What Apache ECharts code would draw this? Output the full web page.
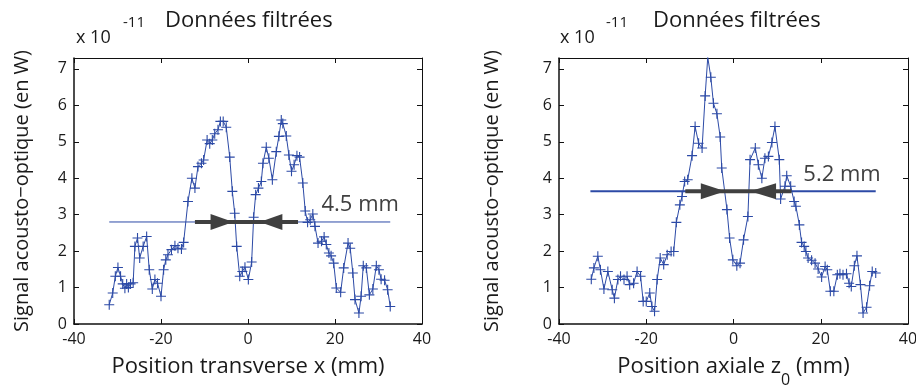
<!DOCTYPE html>
<html>
<head>
<meta charset="utf-8">
<script src="https://cdn.jsdelivr.net/npm/echarts@6/dist/echarts.min.js"></script>
<style>
html,body{margin:0;padding:0;background:#fff;}
#chart{width:916px;height:385px;}
</style>
</head>
<body>
<div id="chart"></div>
<script>
// ---- Data (values in units of 1e-11 W, positions in mm) ----
const xTicks = [-40, -20, 0, 20, 40];
const yTicks = [0, 1, 2, 3, 4, 5, 6, 7];

// Left panel: Position transverse x (mm)
const transX = [-31.9,-31.1,-30.5,-29.9,-29.3,-28.8,-28.3,-27.9,-27.5,-27.0,-26.4,-26.0,-25.4,-24.9,-24.1,-23.3,-22.7,-22.0,-21.4,-20.8,-20.0,-19.4,-18.9,-18.4,-17.6,-16.8,-16.1,-15.3,-14.8,-13.8,-12.9,-12.2,-11.5,-10.7,-10.2,-9.4,-8.8,-8.2,-7.65,-6.9,-6.35,-5.7,-5.0,-4.2,-3.6,-3.06,-2.6,-1.9,-1.3,-0.7,0.08,0.84,1.3,1.76,2.4,3.06,3.44,4.2,4.8,5.6,6.5,7.1,7.65,8.0,8.8,9.4,10.0,10.6,11.25,11.86,12.6,13.16,13.7,14.3,14.9,15.4,16.1,16.9,17.5,18.0,18.6,19.1,19.7,20.3,21.3,22.0,23.0,23.5,24.1,24.6,25.5,26.0,26.5,27.2,27.9,28.7,29.5,30.1,30.6,31.4,32.1,32.7];
const transY = [0.53,0.85,1.31,1.55,1.31,1.1,0.98,1.1,1.0,1.1,1.13,2.13,2.36,1.81,2.13,2.4,1.49,0.96,1.22,1.12,0.76,1.49,1.76,1.9,2.04,2.15,2.08,2.06,2.24,3.36,4.0,3.73,4.32,4.41,4.5,5.05,4.95,5.05,5.22,5.33,5.56,5.56,5.4,4.58,3.64,3.04,2.13,1.31,1.44,1.56,1.22,1.7,2.93,3.55,3.73,3.91,4.41,4.85,4.55,3.96,4.73,5.15,5.6,5.5,5.16,4.64,4.19,4.37,4.62,4.58,3.87,3.1,2.79,2.86,3.02,2.68,2.22,2.27,2.39,2.18,1.95,1.87,1.67,0.99,0.87,1.54,2.22,2.08,1.4,0.67,0.3,0.76,1.6,1.54,0.8,0.96,1.6,1.49,1.23,1.2,0.94,0.48];

// Right panel: Position axiale z0 (mm)
const axialX = [-32.6,-32.0,-31.1,-30.5,-29.7,-28.8,-27.8,-27.3,-26.5,-25.9,-25.1,-24.4,-23.8,-22.9,-22.1,-21.3,-20.7,-20.0,-19.2,-18.7,-18.1,-17.5,-16.8,-16.0,-15.2,-14.3,-13.7,-13.1,-12.3,-11.8,-11.2,-10.5,-9.5,-8.8,-8.0,-7.2,-6.5,-5.9,-5.2,-4.6,-3.8,-3.05,-2.7,-1.5,-0.9,-0.15,0.76,1.5,2.3,3.3,3.8,5.0,5.7,6.5,7.2,8.0,8.8,9.5,10.5,10.8,11.8,12.2,13.1,13.9,14.3,15.1,15.6,16.2,16.6,17.1,17.9,18.7,19.4,20.2,21.0,21.5,22.2,23.0,23.8,24.4,25.1,25.9,26.5,27.0,27.7,28.3,29.1,29.7,30.5,31.2,31.8,32.6];
const axialY = [1.23,1.54,1.86,1.49,0.96,1.44,0.94,0.71,1.22,1.31,1.22,1.31,1.08,1.12,1.44,1.31,0.62,0.62,0.85,0.48,0.35,1.22,1.81,1.63,1.9,1.99,1.99,2.79,3.27,3.5,3.91,3.96,4.62,5.42,4.96,4.83,6.26,7.32,6.77,6.06,5.77,5.13,4.28,3.14,2.36,1.76,1.6,1.67,2.31,2.95,4.51,4.83,4.37,4.0,4.55,4.6,4.98,5.42,4.51,3.43,3.78,4.07,3.78,3.36,3.23,2.72,2.24,2.13,1.99,1.81,1.75,1.67,1.51,1.29,1.58,1.49,0.9,0.9,1.35,1.38,1.35,1.38,1.12,1.03,1.6,1.87,1.08,0.3,0.46,1.05,1.44,1.4];

// Half-maximum levels and their extent
const levelTrans = 2.8;
const levelTransSpan = [-31.9, 32.7];
const levelAxial = 3.64;
const levelAxialSpan = [-32.8, 32.6];

// Width arrows: [shaft start, head1 base, head1 tip, head2 tip, head2 base, shaft end]
const arrowTrans = [-12.2, -8.6, -3.4, 2.7, 7.9, 11.5];
const arrowAxial = [-11.05, -7.5, -1.9, 3.8, 9.75, 13.3];
const widthLabels = ['4.5 mm', '5.2 mm'];
const widthLabelPos = [[16.9, 3.27], [16.0, 4.1]];

const titleText = 'Données filtrées';
const yName = 'Signal acousto\u2212optique (en W)';

// ---- Chart ----
const FONT = 'Open Sans';
const BLUE = '#2c4aa6';
const DARK = '#404040';
const TXT = '#1a1a1a';
const crossPath = 'path://M0,4.45H10V5.55H0Z M4.45,0H5.55V10H4.45Z';

function zip(a, b) { return a.map((v, i) => [v, b[i]]); }

function xAx(grid, pos) {
  const main = pos === 'bottom';
  return {
    type: 'value', gridIndex: grid, position: pos, min: -40, max: 40, interval: 20,
    axisLine: { show: true, onZero: false, lineStyle: { color: '#111', width: main ? 1.5 : 1 } },
    axisTick: { show: true, inside: true, length: 5, lineStyle: { color: '#111' } },
    axisLabel: { show: main, color: TXT, fontFamily: FONT, fontSize: 16, margin: 7 },
    splitLine: { show: false }
  };
}
function yAx(grid, pos) {
  const main = pos === 'left';
  return {
    type: 'value', gridIndex: grid, position: pos, min: 0, max: 7.3, interval: 1,
    axisLine: { show: true, onZero: false, lineStyle: { color: '#111', width: main ? 1.5 : 1 } },
    axisTick: { show: true, inside: true, length: 5, lineStyle: { color: '#111' } },
    axisLabel: { show: main, color: TXT, fontFamily: FONT, fontSize: 16, margin: 7,
      formatter: v => (Math.abs(v - Math.round(v)) < 1e-6 && yTicks.includes(Math.round(v))) ? String(Math.round(v)) : '' },
    splitLine: { show: false }
  };
}

function arrowSeries(xi, yi, level, arr) {
  return {
    type: 'custom', xAxisIndex: xi, yAxisIndex: yi, z: 5, silent: true,
    data: [[level]],
    renderItem: function (params, api) {
      const p = x => api.coord([x, level]);
      const s = p(arr[0]), b1 = p(arr[1]), t1 = p(arr[2]), t2 = p(arr[3]), b2 = p(arr[4]), e = p(arr[5]);
      const h = 8;
      return {
        type: 'group',
        children: [
          { type: 'line', shape: { x1: s[0], y1: s[1], x2: e[0], y2: e[1] }, style: { stroke: DARK, lineWidth: 4 } },
          { type: 'polygon', shape: { points: [[b1[0], b1[1] - h], [t1[0], t1[1]], [b1[0], b1[1] + h]] }, style: { fill: DARK } },
          { type: 'polygon', shape: { points: [[b2[0], b2[1] - h], [t2[0], t2[1]], [b2[0], b2[1] + h]] }, style: { fill: DARK } }
        ]
      };
    }
  };
}

function labelSeries(xi, yi, text, pos) {
  return {
    type: 'custom', xAxisIndex: xi, yAxisIndex: yi, z: 6, silent: true,
    data: [pos],
    renderItem: function (params, api) {
      const c = api.coord([api.value(0), api.value(1)]);
      return { type: 'text', x: c[0], y: c[1],
        style: { text: text, fill: DARK, fontFamily: FONT, fontSize: 22, align: 'left', verticalAlign: 'middle' } };
    }
  };
}

function dataSeries(xi, yi, xs, ys) {
  return {
    type: 'line', xAxisIndex: xi, yAxisIndex: yi, data: zip(xs, ys), z: 3,
    symbol: crossPath, symbolSize: 10, showAllSymbol: true,
    lineStyle: { color: BLUE, width: 1 }, itemStyle: { color: BLUE }, animation: false
  };
}
function levelSeries(xi, yi, level, span, w) {
  return {
    type: 'line', xAxisIndex: xi, yAxisIndex: yi, data: [[span[0], level], [span[1], level]], z: 2,
    symbol: 'none', lineStyle: { color: BLUE, width: w }, animation: false
  };
}

const nameStyle = { color: TXT, fontFamily: FONT, fontSize: 22 };

const option = {
  animation: false,
  backgroundColor: '#fff',
  grid: [
    { left: 74, top: 58, width: 348, height: 266, outerBoundsMode: 'none', containLabel: false },
    { left: 559, top: 58, width: 349, height: 266, outerBoundsMode: 'none', containLabel: false }
  ],
  xAxis: [
    Object.assign(xAx(0, 'bottom'), { name: 'Position transverse x (mm)', nameLocation: 'middle', nameGap: 32,
      nameTextStyle: nameStyle }),
    Object.assign(xAx(1, 'bottom'), { name: '{n|Position axiale z}{s|0}{n| (mm)}', nameLocation: 'middle', nameGap: 32,
      nameTextStyle: { color: TXT, fontFamily: FONT, fontSize: 22,
        rich: { n: { fontFamily: FONT, fontSize: 22, color: TXT }, s: { fontFamily: FONT, fontSize: 16, color: TXT, verticalAlign: 'bottom', padding: [0, 0, -10, 0] } } } }),
    xAx(0, 'top'),
    xAx(1, 'top')
  ],
  yAxis: [
    Object.assign(yAx(0, 'left'), { name: yName, nameLocation: 'middle', nameGap: 42,
      nameTextStyle: { color: TXT, fontFamily: FONT, fontSize: 20 } }),
    Object.assign(yAx(1, 'left'), { name: yName, nameLocation: 'middle', nameGap: 57,
      nameTextStyle: { color: TXT, fontFamily: FONT, fontSize: 20 } }),
    yAx(0, 'right'),
    yAx(1, 'right')
  ],
  graphic: [
    { type: 'text', left: 76, top: 29, style: { text: 'x 10', fill: TXT, font: '18px "Open Sans"' } },
    { type: 'text', left: 123, top: 15, style: { text: '-11', fill: TXT, font: '15px "Open Sans"' } },
    { type: 'text', left: 165, top: 10, style: { text: titleText, fill: TXT, font: '22px "Open Sans"' } },
    { type: 'text', left: 560, top: 29, style: { text: 'x 10', fill: TXT, font: '18px "Open Sans"' } },
    { type: 'text', left: 606, top: 15, style: { text: '-11', fill: TXT, font: '15px "Open Sans"' } },
    { type: 'text', left: 653, top: 10, style: { text: titleText, fill: TXT, font: '22px "Open Sans"' } }
  ],
  series: [
    levelSeries(0, 0, levelTrans, levelTransSpan, 1),
    dataSeries(0, 0, transX, transY),
    arrowSeries(0, 0, levelTrans, arrowTrans),
    labelSeries(0, 0, widthLabels[0], widthLabelPos[0]),
    levelSeries(1, 1, levelAxial, levelAxialSpan, 2),
    dataSeries(1, 1, axialX, axialY),
    arrowSeries(1, 1, levelAxial, arrowAxial),
    labelSeries(1, 1, widthLabels[1], widthLabelPos[1])
  ]
};

const chart = echarts.init(document.getElementById('chart'), null, { renderer: 'canvas' });
chart.setOption(option);
</script>
</body>
</html>
